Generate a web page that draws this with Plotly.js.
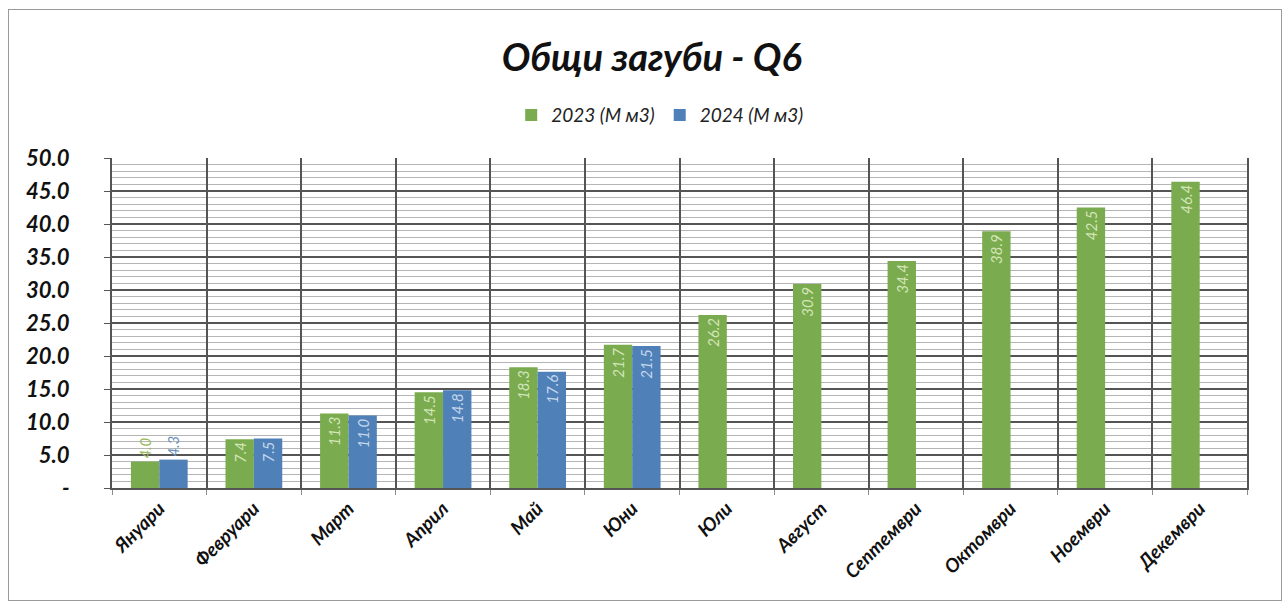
<!DOCTYPE html>
<html>
<head>
<meta charset="utf-8">
<script src="https://cdn.plot.ly/plotly-3.0.1.min.js"></script>
<style>
html,body{margin:0;padding:0;background:#fff;}
#wrap{position:relative;width:1288px;height:607px;}
#chart{width:1288px;height:607px;}
#frame{position:absolute;left:8px;top:9px;width:1272px;height:590px;border:1.5px solid #9a9a9a;pointer-events:none;}
</style>
</head>
<body>
<div id="wrap"><div id="chart"></div><div id="frame"></div></div>
<script>
const months = ['Януари','Февруари','Март','Април','Май','Юни','Юли','Август','Септември','Октомври','Ноември','Декември'];
const values2023 = [4.0, 7.4, 11.3, 14.5, 18.3, 21.7, 26.2, 30.9, 34.4, 38.9, 42.5, 46.4];
const values2024 = [4.3, 7.5, 11.0, 14.8, 17.6, 21.5];
const months2024 = months.slice(0, values2024.length);
const yTickVals = [0, 5, 10, 15, 20, 25, 30, 35, 40, 45, 50];
const yTickText = ['-', '5.0', '10.0', '15.0', '20.0', '25.0', '30.0', '35.0', '40.0', '45.0', '50.0'];
const seriesNames = ['2023 (М м3)', '2024 (М м3)'];

const FONT = 'Lato, "Open Sans", "DejaVu Sans", sans-serif';
const green = '#7aab4f', blue = '#4f81b8';

// label placement: short bars get the label above the bar
const pos = arr => arr.map(v => (v < 6 ? 'outside' : 'inside'));

const traces = [
  {
    type: 'bar', name: seriesNames[0], x: months, y: values2023,
    marker: {color: green},
    texttemplate: '%{y:.1f}', textposition: pos(values2023), textangle: -90,
    insidetextanchor: 'end',
    constraintext: 'none', cliponaxis: false,
    insidetextfont: {family: FONT, size: 15, color: '#d3e6b8', style: 'italic'},
    outsidetextfont: {family: FONT, size: 15, color: '#9ab85e', style: 'italic'},
    hoverinfo: 'skip'
  },
  {
    type: 'bar', name: seriesNames[1], x: months2024, y: values2024,
    marker: {color: blue},
    texttemplate: '%{y:.1f}', textposition: pos(values2024), textangle: -90,
    insidetextanchor: 'end',
    constraintext: 'none', cliponaxis: false,
    insidetextfont: {family: FONT, size: 15, color: '#c6d7eb', style: 'italic'},
    outsidetextfont: {family: FONT, size: 15, color: '#6a90ba', style: 'italic'},
    hoverinfo: 'skip'
  }
];

const layout = {
  width: 1288, height: 607,
  margin: {l: 112, r: 41, t: 158, b: 119},
  paper_bgcolor: '#ffffff', plot_bgcolor: '#ffffff',
  barmode: 'group', bargap: 0.4, bargroupgap: 0,
  font: {family: FONT, color: '#111'},
  title: {
    text: 'Общи загуби - Q6',
    font: {family: FONT, size: 38, weight: 700, style: 'italic', color: '#111'},
    x: 0.506, xanchor: 'center', xref: 'container',
    y: 0.905, yanchor: 'middle', yref: 'container'
  },
  showlegend: true,
  legend: {
    orientation: 'h', x: 0.483, xanchor: 'center', y: 1.13, yanchor: 'middle',
    font: {family: FONT, size: 19, style: 'italic', color: '#222'},
    itemwidth: 30, traceorder: 'normal', tracegroupgap: 0
  },
  xaxis: {
    type: 'category', tickson: 'boundaries',
    showgrid: true, gridcolor: '#555', gridwidth: 2,
    showline: true, linecolor: '#555', linewidth: 2, mirror: false,
    ticks: 'outside', ticklen: 5, tickcolor: '#8a8a8a',
    tickangle: -45,
    tickfont: {family: FONT, size: 19, weight: 700, style: 'italic', color: '#111'}
  },
  yaxis: {
    range: [0, 50], tickvals: yTickVals, ticktext: yTickText,
    showgrid: true, gridcolor: '#555', gridwidth: 2,
    showline: true, linecolor: '#555', linewidth: 2, mirror: true,
    ticks: 'outside', ticklen: 6, tickcolor: '#555',
    zeroline: false,
    minor: {dtick: 1, showgrid: true, gridcolor: '#b5b5b5', gridwidth: 1, ticks: ''},
    tickfont: {family: FONT, size: 22, weight: 700, style: 'italic', color: '#111'},
    ticklabelstandoff: 30
  }
};

Plotly.newPlot('chart', traces, layout, {displayModeBar: false, staticPlot: true});
</script>
</body>
</html>
